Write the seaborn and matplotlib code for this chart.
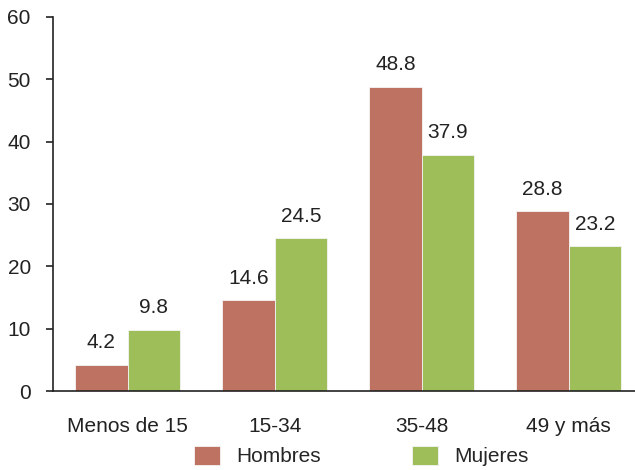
import numpy as np
import pandas as pd
import matplotlib
matplotlib.use("Agg")
import matplotlib.pyplot as plt
import seaborn as sns

grupos = ["Menos de 15", "15-34", "35-48", "49 y más"]
hombres = [4.2, 14.6, 48.8, 28.8]
mujeres = [9.8, 24.5, 37.9, 23.2]
series = ["Hombres", "Mujeres"]
colores = ["#BE7362", "#9DBE59"]

sns.set_style("white")
plt.rcParams["font.family"] = ["Liberation Sans", "DejaVu Sans"]

df = pd.DataFrame({
    "grupo": grupos * 2,
    "valor": hombres + mujeres,
    "sexo": [series[0]] * len(grupos) + [series[1]] * len(grupos),
})

fig = plt.figure(figsize=(6.35, 4.7), dpi=100)
ax = fig.add_axes([0.0835, 0.168, 0.9165, 0.796])

sns.barplot(data=df, x="grupo", y="valor", hue="sexo", palette=colores,
            width=0.714, gap=0, edgecolor="#f4f4f4", linewidth=0.6,
            saturation=1, ax=ax, legend=True)

for cont in ax.containers:
    ax.bar_label(cont, fmt="%.1f", padding=9, fontsize=15, color="#222222")

ax.set_ylim(0, 60)
ax.set_xlim(-0.507, 3.45)
ax.set_yticks(range(0, 61, 10))
ax.set_xlabel("")
ax.set_ylabel("")
for s in ["top", "right"]:
    ax.spines[s].set_visible(False)
for s in ["left", "bottom"]:
    ax.spines[s].set_color("#222222")
    ax.spines[s].set_linewidth(1.2)
ax.tick_params(axis="y", left=True, length=5, width=1.2, pad=11,
               labelsize=15, colors="#222222")
ax.tick_params(axis="x", bottom=False, length=0, pad=19, labelsize=15,
               colors="#222222")

handles, labels = ax.get_legend_handles_labels()
ax.get_legend().remove()
fig.legend(handles, labels, loc="center", bbox_to_anchor=(0.569, 0.03),
           ncol=2, frameon=False, fontsize=15, handlelength=1.25,
           handleheight=1.05, columnspacing=4.4, handletextpad=0.77)

fig.savefig("out.png", dpi=100)
